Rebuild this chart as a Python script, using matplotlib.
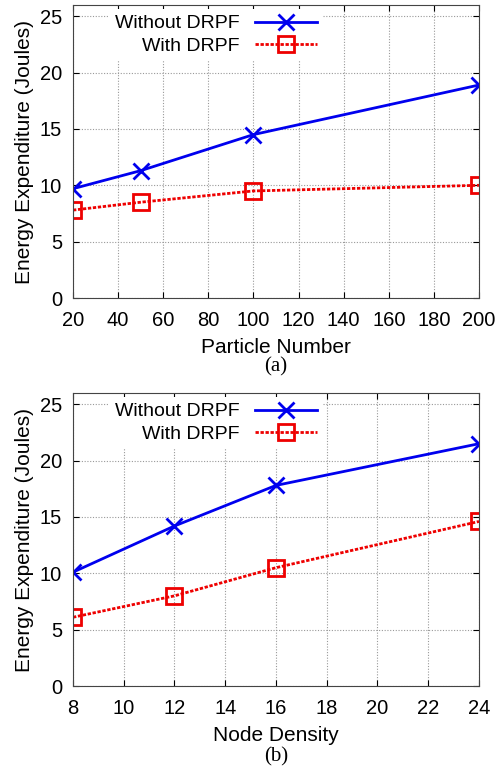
import matplotlib
matplotlib.use("Agg")
import matplotlib.pyplot as plt

plt.rcParams["font.family"] = ["Liberation Sans", "DejaVu Sans"]

# panel (a): particle number
particles = [20, 50, 100, 200]
without_a = [9.7, 11.3, 14.5, 18.9]
with_a = [7.8, 8.5, 9.5, 10.0]

# panel (b): node density
density = [8, 12, 16, 24]
without_b = [10.1, 14.2, 17.8, 21.5]
with_b = [6.1, 8.0, 10.5, 14.6]

W, H = 502, 770
fig = plt.figure(figsize=(W / 100, H / 100), dpi=100)


def panel(rect, x, y1, y2, xticks, xlabel, caption, cap_y):
    ax = fig.add_axes(rect)
    ax.plot(x, y1, color="#0000ee", lw=2, marker="x", ms=11, mew=2,
            label="Without DRPF")
    ax.plot(x, y2, color="#ee0000", lw=2, ls=(0, (1.2, 0.6)), marker="s",
            ms=11, mew=2, mfc="none", label="With DRPF")
    ax.set_xlim(xticks[0], xticks[-1])
    ax.set_ylim(0, 26)
    ax.set_xticks(xticks)
    ax.set_yticks([0, 5, 10, 15, 20, 25])
    ax.tick_params(labelsize=14.5, direction="in", length=4,
                   top=True, right=True)
    ax.tick_params(axis="x", pad=9)
    ax.tick_params(axis="y", pad=8)
    ax.grid(True, color="#999999", ls=(0, (1, 1.5)), lw=0.8)
    ax.set_axisbelow(True)
    ax.set_xlabel(xlabel, fontsize=15, labelpad=6)
    ax.set_ylabel("Energy Expenditure (Joules)", fontsize=15, labelpad=4)
    for s in ax.spines.values():
        s.set_color("#444444")
    leg = ax.legend(loc="upper left", bbox_to_anchor=(0.065, 1.02),
                    fontsize=14, frameon=True, markerfirst=False,
                    handlelength=3.2, handletextpad=0.8, borderpad=0.3,
                    labelspacing=0.25)
    leg.get_frame().set_edgecolor("none")
    leg.get_frame().set_alpha(1.0)
    for t in leg.get_texts():
        t.set_ha("right")
    leg._legend_box.align = "right"
    fig.text(rect[0] + rect[2] / 2, cap_y, caption, ha="center", va="center",
             fontsize=15, family=["Liberation Serif", "DejaVu Serif"])
    return ax


panel([73 / W, 1 - 298 / H, 406 / W, 293 / H], particles, without_a, with_a,
      [20, 40, 60, 80, 100, 120, 140, 160, 180, 200], "Particle Number",
      "(a)", 1 - 367 / H)
panel([73 / W, 1 - 686 / H, 406 / W, 293 / H], density, without_b, with_b,
      [8, 10, 12, 14, 16, 18, 20, 22, 24], "Node Density",
      "(b)", 1 - 757 / H)

fig.savefig("out.png", dpi=100)
